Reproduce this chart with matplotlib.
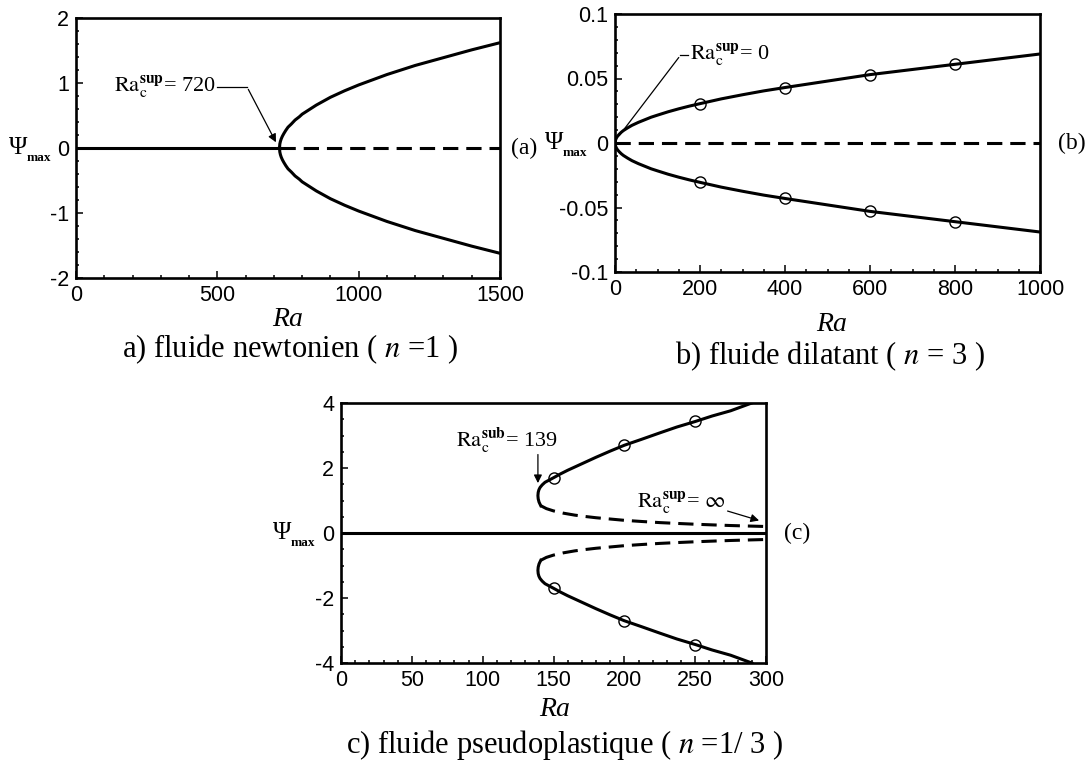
import matplotlib
matplotlib.use("Agg")
import matplotlib.pyplot as plt
from matplotlib.ticker import MultipleLocator

plt.rcParams["font.family"] = ["Liberation Sans", "DejaVu Sans"]
plt.rcParams["mathtext.fontset"] = "stix"
plt.rcParams["axes.unicode_minus"] = False

W, H = 1089, 765

# a) newtonian fluid (n = 1)
ra_a_crit = 720
ra_a = [720, 721, 723, 726, 730, 735, 742, 750, 762, 775, 790, 800, 825, 850, 875, 900, 950,
        1000, 1050, 1100, 1200, 1300, 1400, 1500]
psi_a = [0, 0.06, 0.1, 0.14, 0.18, 0.22, 0.27, 0.32, 0.37, 0.43, 0.48, 0.52, 0.59, 0.66, 0.72,
         0.78, 0.88, 0.97, 1.05, 1.13, 1.27, 1.39, 1.51, 1.62]

# b) dilatant fluid (n = 3)
ra_b = [0, 1, 3, 6, 10, 15, 20, 30, 40, 55, 70, 85, 100, 125, 150, 175, 200, 250, 300, 350,
        400, 500, 600, 700, 800, 900, 1000]
psi_b = [0, 0.002, 0.0037, 0.0053, 0.0068, 0.0084, 0.0097, 0.0118, 0.0137, 0.016, 0.018,
         0.02, 0.0216, 0.0242, 0.0265, 0.0286, 0.0305, 0.0342, 0.0374, 0.0404, 0.043, 0.048,
         0.053, 0.057, 0.061, 0.065, 0.069]
ra_b_pts = [200, 400, 600, 800]
psi_b_pts = [0.0305, 0.043, 0.053, 0.061]

# c) pseudoplastic fluid (n = 1/3)
ra_c_stable = [141, 139.8, 139.2, 139, 139.2, 139.7, 140.5, 142, 144, 147, 150, 155, 160, 165,
               170, 180, 190, 200, 212, 225, 237, 250, 262, 275, 290]
psi_c_stable = [0.84, 0.95, 1.05, 1.15, 1.25, 1.33, 1.4, 1.48, 1.56, 1.63, 1.7, 1.82, 1.93,
                2.03, 2.13, 2.33, 2.52, 2.7, 2.88, 3.08, 3.26, 3.43, 3.6, 3.76, 4.0]
ra_c_unstable = [141, 145, 150, 157, 165, 172, 180, 190, 200, 212, 225, 237, 250, 262, 275,
                 287, 300]
psi_c_unstable = [0.84, 0.75, 0.68, 0.61, 0.55, 0.51, 0.47, 0.43, 0.39, 0.355, 0.32, 0.295,
                  0.27, 0.25, 0.23, 0.215, 0.2]
ra_c_pts = [150, 200, 250]
psi_c_pts = [1.7, 2.7, 3.45]

LW = 2.2
DASH = (5, 2.6)


def box(x0, y0, x1, y1):
    return [x0 / W, 1 - y1 / H, (x1 - x0) / W, (y1 - y0) / H]


def style(ax, xmaj, xmin, ymaj, ymin):
    for s in ax.spines.values():
        s.set_linewidth(1.9)
    ax.xaxis.set_major_locator(MultipleLocator(xmaj))
    ax.xaxis.set_minor_locator(MultipleLocator(xmin))
    ax.yaxis.set_major_locator(MultipleLocator(ymaj))
    ax.yaxis.set_minor_locator(MultipleLocator(ymin))
    ax.tick_params(which="both", direction="in", top=False, right=False,
                   labelsize=15.5, width=1.1, pad=5)
    ax.tick_params(which="major", length=5)
    ax.tick_params(which="minor", length=2.5)


def flabel(x, y, s, **kw):
    fig.text(x / W, 1 - y / H, s, **kw)


serif = ["Liberation Serif", "DejaVu Serif"]
fig = plt.figure(figsize=(W / 100, H / 100), dpi=100)

# ---------------- panel a
ax = fig.add_axes(box(76, 18, 500, 278))
ax.plot([0, ra_a_crit], [0, 0], "k-", lw=LW)
ax.plot([ra_a_crit, 1500], [0, 0], "k--", lw=LW, dashes=DASH)
ax.plot(ra_a, psi_a, "k-", lw=LW)
ax.plot(ra_a, [-p for p in psi_a], "k-", lw=LW)
ax.set_xlim(0, 1500)
ax.set_ylim(-2, 2)
style(ax, 500, 100, 1, 0.2)
ax.text(495, 0.94, r"$\mathrm{Ra}_{\mathrm{c}}^{\mathbf{sup}}$= 720", ha="right",
        va="center", fontsize=16, family=serif)
ax.plot([500, 605], [0.94, 0.94], "k-", lw=0.9)
ax.annotate("", xy=(712, 0.05), xytext=(605, 0.94),
            arrowprops=dict(arrowstyle="-|>", lw=0.9, color="k", mutation_scale=12))

# ---------------- panel b
ax = fig.add_axes(box(615, 14, 1040, 272))
ax.plot([0, 1000], [0, 0], "k--", lw=LW, dashes=DASH)
ax.plot(ra_b, psi_b, "k-", lw=LW)
ax.plot(ra_b, [-p for p in psi_b], "k-", lw=LW)
ax.plot(ra_b_pts, psi_b_pts, "o", ms=8, mfc="none", mec="k", mew=1)
ax.plot(ra_b_pts, [-p for p in psi_b_pts], "o", ms=8, mfc="none", mec="k", mew=1)
ax.set_xlim(0, 1000)
ax.set_ylim(-0.1, 0.1)
style(ax, 200, 50, 0.05, 0.01)
ax.yaxis.set_major_formatter(plt.FuncFormatter(lambda v, p: "0" if abs(v) < 1e-9 else f"{v:g}"))
ax.text(176, 0.068, r"$\mathrm{Ra}_{\mathrm{c}}^{\mathbf{sup}}$= 0", ha="left",
        va="center", fontsize=16, family=serif)
ax.plot([172, 154], [0.068, 0.068], "k-", lw=0.9)
ax.annotate("", xy=(6, 0.004), xytext=(154, 0.068),
            arrowprops=dict(arrowstyle="-", lw=0.9, color="k"))

# ---------------- panel c
ax = fig.add_axes(box(341, 403, 766, 663))
ax.plot([0, 300], [0, 0], "k-", lw=LW)
ax.plot(ra_c_stable, psi_c_stable, "k-", lw=LW)
ax.plot(ra_c_stable, [-p for p in psi_c_stable], "k-", lw=LW)
ax.plot(ra_c_unstable, psi_c_unstable, "k--", lw=LW, dashes=DASH)
ax.plot(ra_c_unstable, [-p for p in psi_c_unstable], "k--", lw=LW, dashes=DASH)
ax.plot(ra_c_pts, psi_c_pts, "o", ms=8, mfc="none", mec="k", mew=1)
ax.plot(ra_c_pts, [-p for p in psi_c_pts], "o", ms=8, mfc="none", mec="k", mew=1)
ax.set_xlim(0, 300)
ax.set_ylim(-4, 4)
style(ax, 50, 10, 2, 0.5)
ax.text(117, 2.85, r"$\mathrm{Ra}_{\mathrm{c}}^{\mathbf{sub}}$= 139", ha="center",
        va="center", fontsize=16, family=serif)
ax.annotate("", xy=(139, 1.45), xytext=(139, 2.5),
            arrowprops=dict(arrowstyle="-|>", lw=0.9, color="k", mutation_scale=12))
ax.text(240, 0.94, r"$\mathrm{Ra}_{\mathrm{c}}^{\mathbf{sup}}$= $\infty$", ha="center",
        va="center", fontsize=16, family=serif)
ax.annotate("", xy=(297, 0.36), xytext=(271, 0.7),
            arrowprops=dict(arrowstyle="-|>", lw=0.9, color="k", mutation_scale=12))

# ---------------- outer labels
for x, y in [(9, 148), (545, 143), (273, 533)]:
    flabel(x, y, "Ψ", fontsize=18, va="center", ha="left", family=serif)
    flabel(x + 18, y + 10, "max", fontsize=9.5, weight="bold", va="center", ha="left", family=serif)
flabel(511, 148, "(a)", fontsize=17, va="center", ha="left", family=serif)
flabel(1058, 143, "(b)", fontsize=17, va="center", ha="left", family=serif)
flabel(784, 533, "(c)", fontsize=17, va="center", ha="left", family=serif)

for x, y in [(288, 319), (832, 324), (555, 710)]:
    flabel(x, y, "Ra", fontsize=20, style="italic", ha="center", va="center", family=serif)

flabel(290, 349, r"a) fluide newtonien ( $n$ =1 )", fontsize=22, ha="center", va="center", family=serif)
flabel(830, 356, r"b) fluide dilatant ( $n$ = 3 )", fontsize=22, ha="center", va="center", family=serif)
flabel(565, 745, r"c) fluide pseudoplastique ( $n$ =1/ 3 )", fontsize=22, ha="center", va="center", family=serif)

fig.savefig("out.png", dpi=100)
